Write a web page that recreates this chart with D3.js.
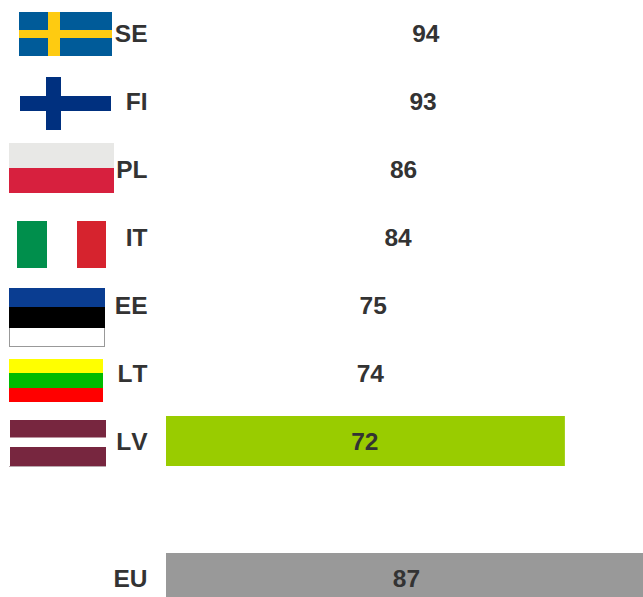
<!DOCTYPE html>
<html><head><meta charset="utf-8">
<script src="https://cdn.jsdelivr.net/npm/d3@7/dist/d3.min.js"></script>
<style>html,body{margin:0;padding:0;background:#fff;overflow:hidden}svg{display:block}text{font-family:"Liberation Sans",Arial,sans-serif;font-weight:700;font-size:24.5px;fill:#333;font-kerning:none}</style>
</head><body><svg id="c" width="643" height="597"></svg>
<script>
const categories = ["SE","FI","PL","IT","EE","LT","LV","","EU"];
const values = [94,93,86,84,75,74,72,null,87];
const barColors = ["#ffffff","#ffffff","#ffffff","#ffffff","#ffffff","#ffffff","#99cc00","#ffffff","#999999"];

const svg = d3.select("#c");
const x = d3.scaleLinear().domain([0,100]).range([166,720]);
const y = d3.scaleBand().domain(categories.map((c,i)=>i)).range([8.2,603]).paddingInner(18.1/68.1).paddingOuter(0);
const rows = categories.map((c,i)=>({c,v:values[i],col:barColors[i],i})).filter(d=>d.v!=null);

svg.selectAll("rect.bar").data(rows).join("rect").attr("class","bar")
  .attr("x",x(0)).attr("y",d=>Math.floor(y(d.i))).attr("width",d=>x(d.v)-x(0)).attr("height",y.bandwidth()).attr("fill",d=>d.col);

svg.selectAll("text.val").data(rows).join("text").attr("class","val")
  .attr("x",d=>x(d.v/2)-0.6).attr("y",d=>y(d.i)+y.bandwidth()/2).attr("dy","0.35em").attr("text-anchor","middle").text(d=>d.v);

svg.selectAll("text.cat").data(rows).join("text").attr("class","cat")
  .attr("x",147.5).attr("y",d=>y(d.i)+y.bandwidth()/2).attr("dy","0.35em").attr("text-anchor","end").text(d=>d.c);

// flags (decorative images in the original)
const flags = svg.append("g");
function r(x0,y0,x1,y1,f,extra){const e=flags.append("rect").attr("x",x0).attr("y",y0).attr("width",x1-x0).attr("height",y1-y0).attr("fill",f);if(extra)e.attr("stroke",extra).attr("stroke-width",1);return e;}
// SE
r(19,12,112,56,"#005b99");r(48,12,60,56,"#fecb11");r(19,30,112,38,"#fecb11");
// FI
r(46,77,61,130,"#00307f");r(20,96,111,111,"#00307f");
// PL
r(9,143,114,168,"#e8e8e6");r(9,168,114,193,"#d7203e");
// IT
r(17,221,47,268,"#008f4c");r(77,221,106,268,"#d6232e");
// EE
r(9.5,327.5,104.5,346.5,"#ffffff","#999999");r(9,288,105,307,"#0a3d91");r(9,307,105,328,"#000000");
// LT
r(9,359,103,373,"#ffff00");r(9,373,103,388,"#00bb00");r(9,388,103,402,"#ff0000");
// LV
r(10,420,106,437.5,"#77263f");r(10,447,106,466,"#77263f");r(9,466,106,467,"#b9a8ae");
</script></body></html>
